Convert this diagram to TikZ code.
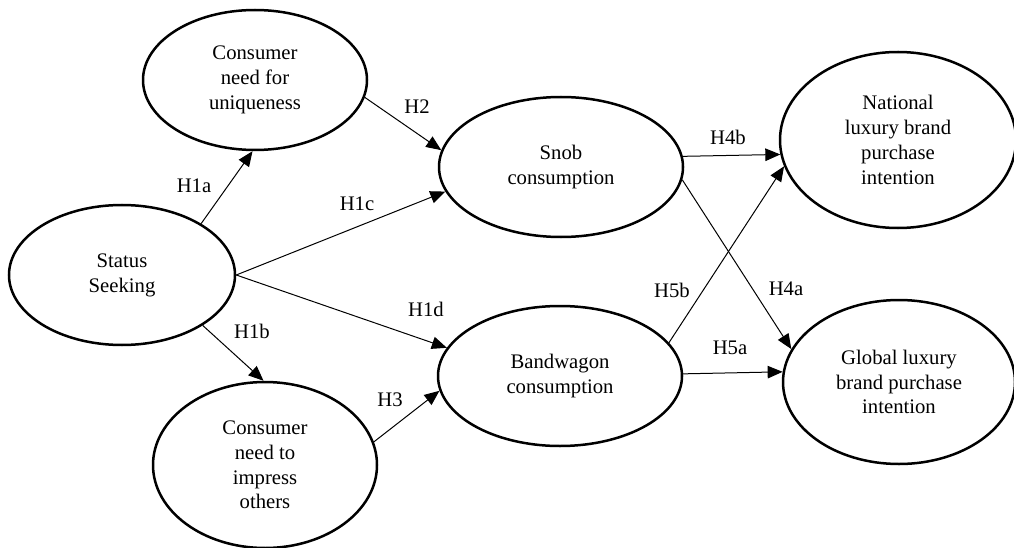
\documentclass[tikz,border=0pt]{standalone}
\usepackage{fontspec}
\setmainfont{Liberation Serif}
\usetikzlibrary{arrows.meta,shapes.geometric}
\begin{document}
\begin{tikzpicture}[x=1pt,y=-1pt,
  construct/.style={ellipse,draw,line width=2.5pt,inner sep=0pt,align=center,
    font=\fontsize{20.7}{24.8}\selectfont},
  link/.style={line width=1pt,-{Triangle[length=15pt,width=12.5pt]}},
  hyp/.style={font=\fontsize{20.7}{24.8}\selectfont,inner sep=0pt}]
\useasboundingbox (0,0) rectangle (1014,548);
% constructs
\node[construct,minimum width=226pt,minimum height=140pt] (status) at (122,275) {Status\\Seeking};
\node[construct,minimum width=224pt,minimum height=140pt] (uniq) at (255,80) {Consumer\\need for\\uniqueness};
\node[construct,minimum width=224pt,minimum height=166pt] (impress) at (265,465) {Consumer\\need to\\impress\\others};
\node[construct,minimum width=244pt,minimum height=140pt] (snob) at (561,167) {Snob\\consumption};
\node[construct,minimum width=244pt,minimum height=140pt] (band) at (560,376) {Bandwagon\\consumption};
\node[construct,minimum width=236pt,minimum height=176pt] (natl) at (898,140) {National\\luxury brand\\purchase\\intention};
\node[construct,minimum width=232pt,minimum height=164pt] (glob) at (899,382) {Global luxury\\brand purchase\\intention};
% connectors
\draw[link] (status.33) -- (uniq.268);
\draw[link] (status.328) -- (impress.91);
\draw[link] (status.east) -- (snob.192);
\draw[link] (status.east) -- (band.166);
\draw[link] (uniq.351) -- (snob.172);
\draw[link] (impress.12) -- (band.187);
\draw[link] (snob.5.7) -- (natl.187.4);
\draw[link] (snob.354) -- (glob.163.6);
\draw[link] (band.17.5) -- (natl.193.6);
\draw[link] (band.1.4) -- (glob.175.5);
% labels
\node[hyp] (l1a) at (194,186) {H1a};
\node[hyp] (l1b) at (252,331) {H1b};
\node[hyp] (l1c) at (357,204) {H1c};
\node[hyp] (l1d) at (426,309) {H1d};
\node[hyp] (l2) at (417,107) {H2};
\node[hyp] (l3) at (390,400) {H3};
\node[hyp] (l4b) at (728,137) {H4b};
\node[hyp] (l4a) at (786,289) {H4a};
\node[hyp] (l5b) at (672,290) {H5b};
\node[hyp] (l5a) at (730,348) {H5a};
\end{tikzpicture}
\end{document}
